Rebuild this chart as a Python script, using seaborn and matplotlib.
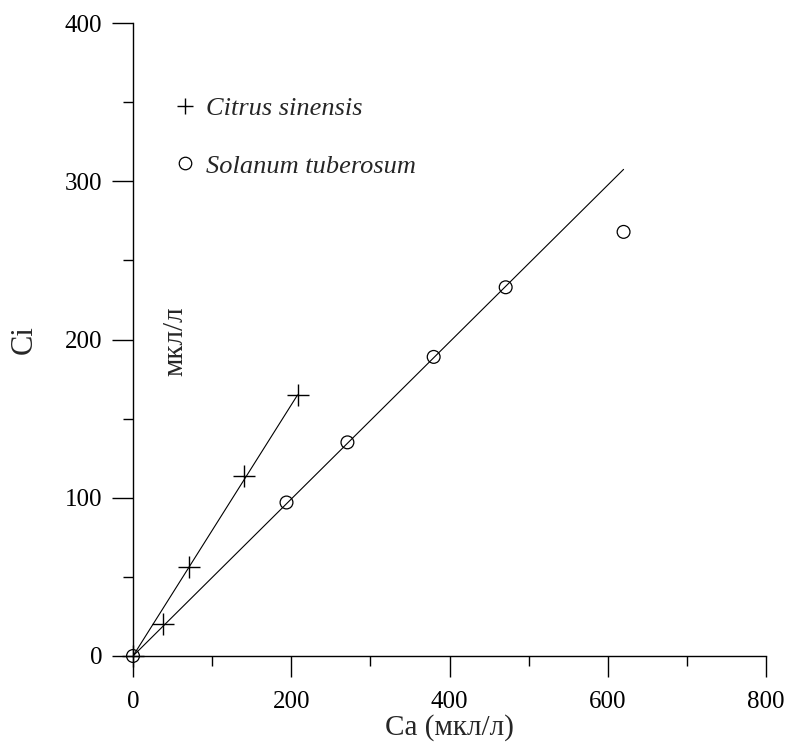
import matplotlib
matplotlib.use("Agg")
import matplotlib.pyplot as plt
from matplotlib.lines import Line2D
from matplotlib.ticker import MultipleLocator
import seaborn as sns
import pandas as pd

# Measured points: intercellular CO2 (Ci) vs ambient CO2 (Ca), мкл/л
citrus_ca = [0, 37.5, 71, 140, 208]
citrus_ci = [0, 20, 56, 114, 165]
solanum_ca = [0, 194, 271, 380, 471, 620]
solanum_ci = [0, 97, 135, 189, 233, 268]

# Straight-line fits (end points)
citrus_fit_ca = [0, 208]
citrus_fit_ci = [0, 165]
solanum_fit_ca = [0, 620]
solanum_fit_ci = [0, 307.5]

species = ["Citrus sinensis", "Solanum tuberosum"]
x_ticks = [0, 200, 400, 600, 800]
y_ticks = [0, 100, 200, 300, 400]

sns.set_style("ticks")
plt.rcParams["font.family"] = ["Liberation Serif", "DejaVu Serif"]

fig = plt.figure(figsize=(7.86, 7.42), dpi=100)
ax = fig.add_axes([133 / 786, 1 - 656 / 742, 633 / 786, 633 / 742])

citrus = pd.DataFrame({"Ca": citrus_ca, "Ci": citrus_ci})
solanum = pd.DataFrame({"Ca": solanum_ca, "Ci": solanum_ci})
citrus_fit = pd.DataFrame({"Ca": citrus_fit_ca, "Ci": citrus_fit_ci})
solanum_fit = pd.DataFrame({"Ca": solanum_fit_ca, "Ci": solanum_fit_ci})

sns.lineplot(data=citrus_fit, x="Ca", y="Ci", ax=ax, color="black",
             linewidth=0.8, sort=False, estimator=None)
sns.lineplot(data=solanum_fit, x="Ca", y="Ci", ax=ax, color="black",
             linewidth=0.8, sort=False, estimator=None)
sns.scatterplot(data=citrus, x="Ca", y="Ci", ax=ax, marker="+", s=230,
                color="black", linewidth=1.0, clip_on=False, zorder=5)
sns.scatterplot(data=solanum, x="Ca", y="Ci", ax=ax, marker="o", s=85,
                facecolor="none", edgecolor="black", linewidth=0.9,
                clip_on=False, zorder=5)

ax.set_xlim(0, 800)
ax.set_ylim(0, 400)
ax.set_xticks(x_ticks)
ax.set_yticks(y_ticks)
ax.xaxis.set_minor_locator(MultipleLocator(100))
ax.yaxis.set_minor_locator(MultipleLocator(50))
ax.tick_params(which="major", direction="out", length=15, width=1.0,
               color="black", labelsize=18, labelcolor="black")
ax.tick_params(which="minor", direction="out", length=7.5, width=1.0,
               color="black")
ax.tick_params(axis="x", which="major", pad=10)
ax.tick_params(axis="y", which="major", pad=7)

for side in ("top", "right"):
    ax.spines[side].set_visible(False)
for side in ("left", "bottom"):
    ax.spines[side].set_color("black")
    ax.spines[side].set_linewidth(1.0)

ax.set_xlabel("Ca (мкл/л)", fontsize=21, labelpad=1)
ax.set_ylabel("Ci", fontsize=22, labelpad=19)

# unit note beside the Ci axis
ax.text(175 / 786, 1 - 341 / 742, "мкл/л", transform=fig.transFigure,
        rotation=90, ha="center", va="center", fontsize=21)

handles = [
    Line2D([], [], marker="+", ls="", ms=12, mew=1.0, color="black"),
    Line2D([], [], marker="o", ls="", ms=9, mew=0.9, mfc="none",
           mec="black"),
]
ax.legend(handles, species, loc="upper left",
          bbox_to_anchor=(0.0613, 0.884), frameon=False,
          prop={"family": "Liberation Serif", "style": "italic", "size": 19},
          handlelength=1.0, handletextpad=0.3, labelspacing=1.3,
          borderpad=0, borderaxespad=0)

fig.savefig("out.png", dpi=100, facecolor="white")
